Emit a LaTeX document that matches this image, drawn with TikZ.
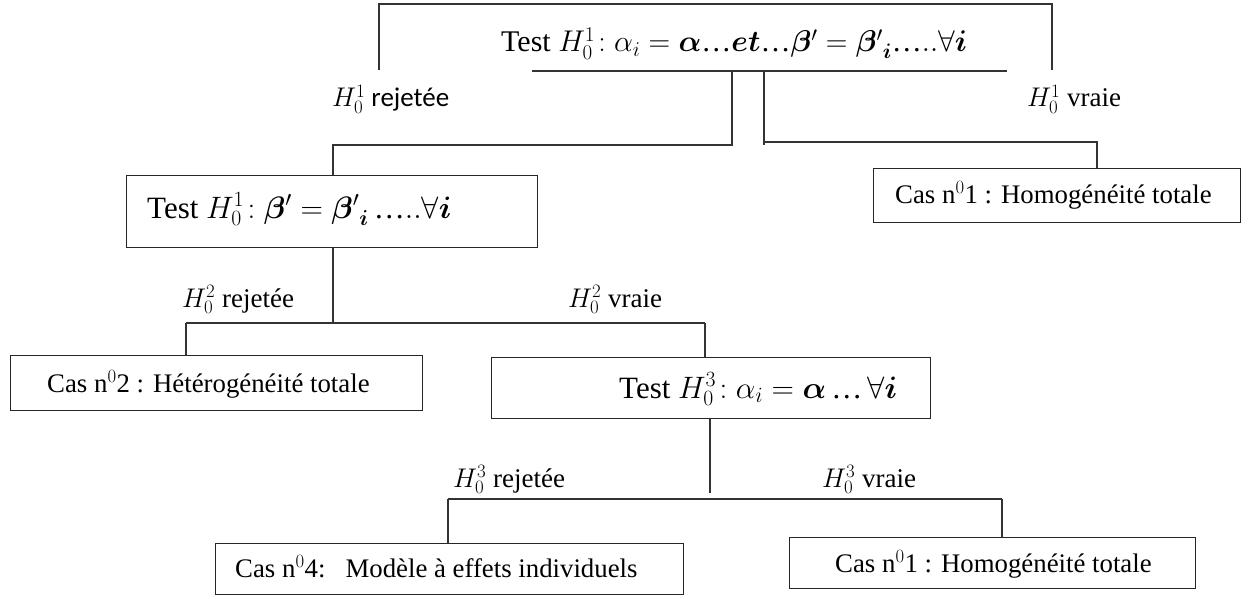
\RequirePackage{fix-cm}
\documentclass[tikz,border=0pt]{standalone}
\usepackage{amsmath,bm}
\usepackage{fontspec}
\setmainfont{Liberation Serif}
\newfontfamily\calib{Carlito}
\newcommand{\dd}{\text{…}}
\begin{document}
\begin{tikzpicture}[x=1pt,y=-1pt,
  box/.style={draw=black!85, line width=1.4pt, anchor=north west, inner sep=0pt},
  ln/.style={draw=black!80, line width=1.3pt},
  txt/.style={inner sep=0pt, anchor=base west, font=\fontsize{26.8}{30}\selectfont},
  big/.style={inner sep=0pt, anchor=base west, font=\fontsize{31}{36}\selectfont},
  lbls/.style={inner sep=0pt, anchor=base west, font=\fontsize{27}{30}\selectfont\calib},
  lbl/.style={inner sep=0pt, anchor=base west, font=\fontsize{27}{30}\selectfont}]
\useasboundingbox[fill=white] (0,0) rectangle (1250,599);
% boxes
\node[box, minimum width=411pt, minimum height=72pt] (b2) at (126,175) {};
\node[box, minimum width=367pt, minimum height=54pt] (c1) at (873,168) {};
\node[box, minimum width=412pt, minimum height=55pt] (c2) at (10,355) {};
\node[box, minimum width=439pt, minimum height=61pt] (b4) at (491,357) {};
\node[box, minimum width=468pt, minimum height=51pt] (c4) at (215,543) {};
\node[box, minimum width=406pt, minimum height=51pt] (c1b) at (789,537) {};
% texts
\node[big, font=\fontsize{30}{35}\selectfont] (t1) at (501,52) {Test $H_0^1\!: \alpha_i = \bm{\alpha}\dd\bm{et}\dd\bm{\beta}' = {\bm{\beta}'}_{\bm{i}}\dd..\forall\bm{i}$};
\node[big] (t2) at (147,218) {Test $H_0^1\!: \bm{\beta}' = {\bm{\beta}'}_{\bm{i}}\,\dd..\forall\bm{i}$};
\node[txt] (tc1) at (895,203) {Cas n$^{0}$1 : Homogénéité totale};
\node[txt] (tc2) at (47,392) {Cas n$^{0}$2 : Hétérogénéité totale};
\node[big] (t4) at (619,398) {Test $H_0^3\!: \alpha_i = \bm{\alpha}\,\dd\,\forall\bm{i}$};
\node[txt] (tc4) at (235,577) {Cas n$^{0}$4:\ \ \ Modèle à effets individuels};
\node[txt] (tc1b) at (835,572) {Cas n$^{0}$1 : Homogénéité totale};
% labels
\node[lbls] (l1r) at (332,107) {$H_0^1$ rejetée};
\node[lbl] (l1v) at (1027,107) {$H_0^1$ vraie};
\node[lbl] (l2r) at (182,307) {$H_0^2$ rejetée};
\node[lbl] (l2v) at (568,307) {$H_0^2$ vraie};
\node[lbl] (l3r) at (453,487) {$H_0^3$ rejetée};
\node[lbl] (l3v) at (822,487) {$H_0^3$ vraie};
% top frame
\coordinate (fl) at (379,70);
\coordinate (ftl) at (379,4);
\coordinate (ftr) at (1052,4);
\coordinate (fr) at (1052,70);
\draw[ln] (fl) -- (ftl) -- (ftr) -- (fr);
\coordinate (u1) at (532,71);
\coordinate (u2) at (1007,71);
\draw[ln] (u1) -- (u2);
% level 1 connectors
\coordinate (j1) at (732,71);
\coordinate (k1) at (333,145);
\draw[ln] (j1) |- (k1) -- (k1 |- b2.north);
\coordinate (j2) at (764,71);
\coordinate (j2e) at (764,145);
\draw[ln] (j2) -- (j2e);
\coordinate (k2) at (764,142);
\coordinate (k3) at (1097,142);
\draw[ln] (k2) -- (k3) -- (k3 |- c1.north);
% level 2
\coordinate (m1) at (333,323);
\draw[ln] (m1 |- b2.south) -- (m1);
\coordinate (m2) at (186,323);
\coordinate (m3) at (705,323);
\draw[ln] (m2) -- (m3);
\draw[ln] (m2) -- (m2 |- c2.north);
\draw[ln] (m3) -- (m3 |- b4.north);
% level 3
\coordinate (n1) at (710,493);
\draw[ln] (n1 |- b4.south) -- (n1);
\coordinate (n2) at (448,499);
\coordinate (n3) at (1002,499);
\draw[ln] (n2) -- (n3);
\draw[ln] (n2) -- (n2 |- c4.north);
\draw[ln] (n3) -- (n3 |- c1b.north);
\end{tikzpicture}
\end{document}
